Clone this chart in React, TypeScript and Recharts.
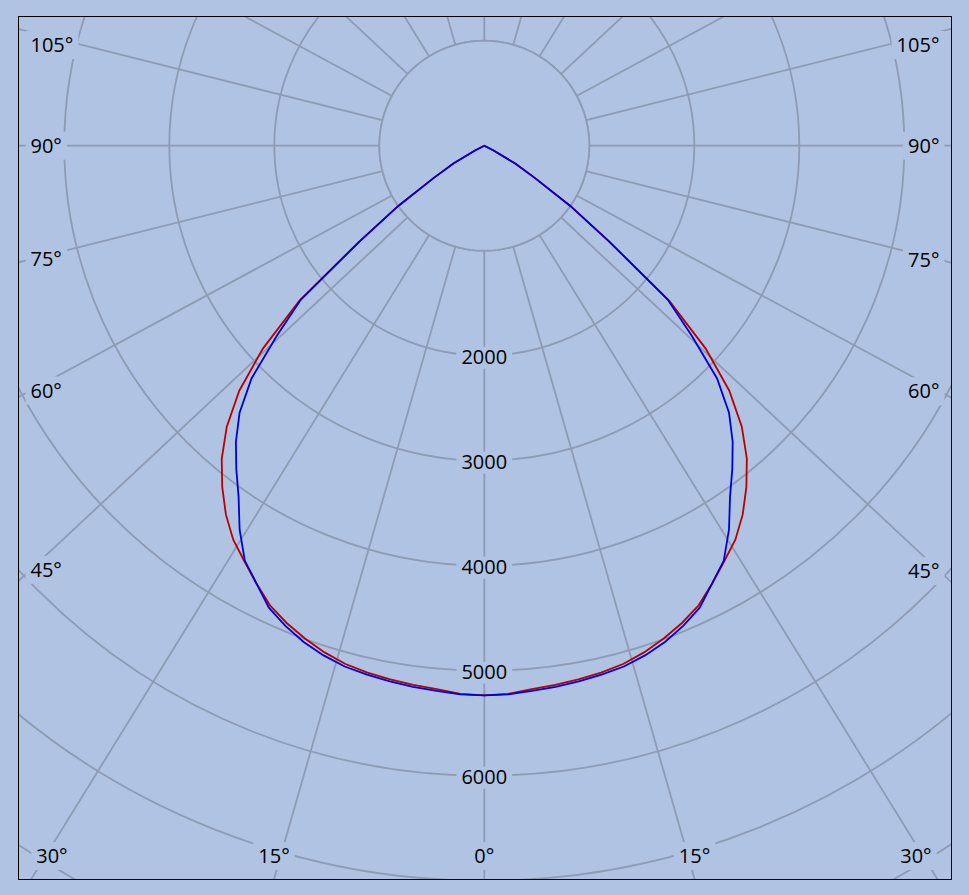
import React from 'react';
import { RadarChart, Radar, PolarGrid, PolarAngleAxis, PolarRadiusAxis } from 'recharts';

// ---- data (luminous intensity, cd, vs. gamma angle) ----
const gammaAngles = [0, 2.5, 5, 7.5, 10, 12.5, 15, 17.5, 20, 22.5, 25, 27.5, 30, 32.5, 35, 37.5, 40, 42.5, 45, 47.5, 50, 52.5, 55, 57.5, 60, 62.5, 65];
const intensityC0C180 = [5235, 5225, 5195, 5180, 5160, 5140, 5110, 5060, 4995, 4920, 4830, 4700, 4570, 4450, 4290, 4100, 3890, 3630, 3300, 2860, 2300, 1500, 1000, 570, 340, 100, 0];
const intensityC90C270 = [5235, 5230, 5212, 5198, 5180, 5160, 5135, 5090, 5030, 4950, 4855, 4700, 4562, 4337, 4080, 3880, 3680, 3450, 3135, 2680, 2280, 1500, 1000, 570, 340, 100, 0];
const radiusTicks = [1000, 2000, 3000, 4000, 5000, 6000, 7000, 8000, 9000];
const radiusLabels = [2000, 3000, 4000, 5000, 6000];
const gridAngleLabels = [-165, -150, -135, -120, -105, -90, -75, -60, -45, -30, -15, 0, 15, 30, 45, 60, 75, 90, 105, 120, 135, 150, 165, 180];
const innerRingValue = 1000;
const angleStep = 2.5;

// ---- styling / layout ----
const BG = '#B0C3E2';
const GRID = '#8E9BB4';
const RED = '#B80000';
const BLUE = '#0000D8';
const FONT = '"Open Sans", "DejaVu Sans", sans-serif';
const FS = 20;
const DIGIT_W = 11.44;
const DEG_W = 8.6;
const CHART_X = 19;
const CHART_Y = 17;
const CHART_W = 932;
const CHART_H = 862;
const CX = 484.3 - CHART_X;
const CY = 145.7 - CHART_Y;
const OUTER_R = 1050;
const R_MAX = 10000;
const SPOKE_STRETCH = 1.07;
const D2R = Math.PI / 180;

const rows: { angle: number; c0: number; c90: number; ring: number }[] = [];
for (let a = -180; a <= 180; a += angleStep) {
  const i = gammaAngles.indexOf(Math.abs(a));
  rows.push({
    angle: a,
    c0: i >= 0 ? intensityC0C180[i] : 0,
    c90: i >= 0 ? intensityC90C270[i] : 0,
    ring: innerRingValue,
  });
}

const stretch = (t: number) =>
  Math.atan2(SPOKE_STRETCH * Math.sin(t * D2R), Math.cos(t * D2R)) / D2R;
const unstretch = (a: number) =>
  Math.atan2(Math.sin(a * D2R) / SPOKE_STRETCH, Math.cos(a * D2R)) / D2R;
const gridTicks = gridAngleLabels.map(stretch);

const textWidth = (s: string) => {
  let w = 0;
  for (const ch of s) w += ch === '°' ? DEG_W : DIGIT_W;
  return w;
};

function AngleTick(props: any) {
  const a = props.payload?.value ?? 0;
  const theta = Math.round(unstretch(a));
  const g = Math.abs(theta);
  if (g > 105) return <g />;
  const label = `${g}°`;
  const s = Math.sin(a * D2R);
  const c = Math.cos(a * D2R);
  const w = textWidth(label);
  let x: number;
  let y: number;
  let left: number;
  if (g <= 30) {
    y = 856 - CHART_Y;
    const t = (CHART_H - CY) / c;
    x = CX + t * s;
    x = Math.max(52 - CHART_X, Math.min(916 - CHART_X, x));
    left = x - w / 2;
  } else {
    if (s < 0) {
      left = 30.5 - CHART_X;
      x = left;
    } else {
      x = 939.5 - CHART_X;
      left = x - w;
    }
    const t = Math.abs(x - CX) / Math.abs(s);
    y = CY + t * c;
    y = Math.max(45 - CHART_Y, y);
  }
  return (
    <g>
      <rect x={left - 5} y={y - 14} width={w + 10} height={28} fill={BG} />
      <text x={left} y={y + 7} textAnchor="start" fontFamily={FONT} fontSize={FS} fill="#000">
        {label}
      </text>
    </g>
  );
}

function RadiusTick(props: any) {
  const { x, y, payload } = props;
  const v = payload?.value;
  if (!radiusLabels.includes(v)) return <g />;
  const label = String(v);
  const w = textWidth(label);
  return (
    <g>
      <rect x={x - w / 2 - 5} y={y - 9} width={w + 10} height={22} fill={BG} />
      <text x={x} y={y + 8.5} textAnchor="middle" fontFamily={FONT} fontSize={FS} fill="#000">
        {label}
      </text>
    </g>
  );
}

export default function App() {
  return (
    <div style={{ position: 'absolute', left: 0, top: 0, width: 969, height: 895, background: BG, overflow: 'hidden' }}>
      <div
        style={{
          position: 'absolute',
          left: 18,
          top: 16,
          width: CHART_W,
          height: CHART_H,
          border: '1px solid #000',
        }}
      >
        <RadarChart
          width={CHART_W}
          height={CHART_H}
          data={rows}
          cx={CX}
          cy={CY}
          innerRadius={0}
          outerRadius={OUTER_R}
          startAngle={-270}
          endAngle={90}
          margin={{ top: 0, right: 0, bottom: 0, left: 0 }}
        >
          <PolarGrid
            gridType="circle"
            angleAxisId="grid"
            radiusAxisId={0}
            stroke={GRID}
            strokeWidth={1.8}
          />
          <PolarAngleAxis
            angleAxisId="grid"
            dataKey="angle"
            type="number"
            domain={[-180, 180]}
            ticks={gridTicks as any}
            axisLine={false}
            tickLine={false}
            tick={<AngleTick />}
          />
          <PolarAngleAxis
            angleAxisId="data"
            dataKey="angle"
            type="number"
            domain={[-180, 180]}
            axisLine={false}
            tickLine={false}
            tick={false}
          />
          <PolarRadiusAxis
            radiusAxisId={0}
            angle={-90}
            type="number"
            domain={[0, R_MAX]}
            ticks={radiusTicks as any}
            axisLine={false}
            tick={<RadiusTick />}
          />
          <Radar
            angleAxisId="data"
            radiusAxisId={0}
            dataKey="ring"
            stroke={GRID}
            strokeWidth={1.8}
            fill={BG}
            fillOpacity={1}
            dot={false}
            isAnimationActive={false}
          />
          <Radar
            angleAxisId="data"
            radiusAxisId={0}
            dataKey="c0"
            stroke={RED}
            strokeWidth={1.8}
            fill="none"
            fillOpacity={0}
            dot={false}
            isAnimationActive={false}
          />
          <Radar
            angleAxisId="data"
            radiusAxisId={0}
            dataKey="c90"
            stroke={BLUE}
            strokeWidth={1.8}
            fill="none"
            fillOpacity={0}
            dot={false}
            isAnimationActive={false}
          />
        </RadarChart>
      </div>
    </div>
  );
}
